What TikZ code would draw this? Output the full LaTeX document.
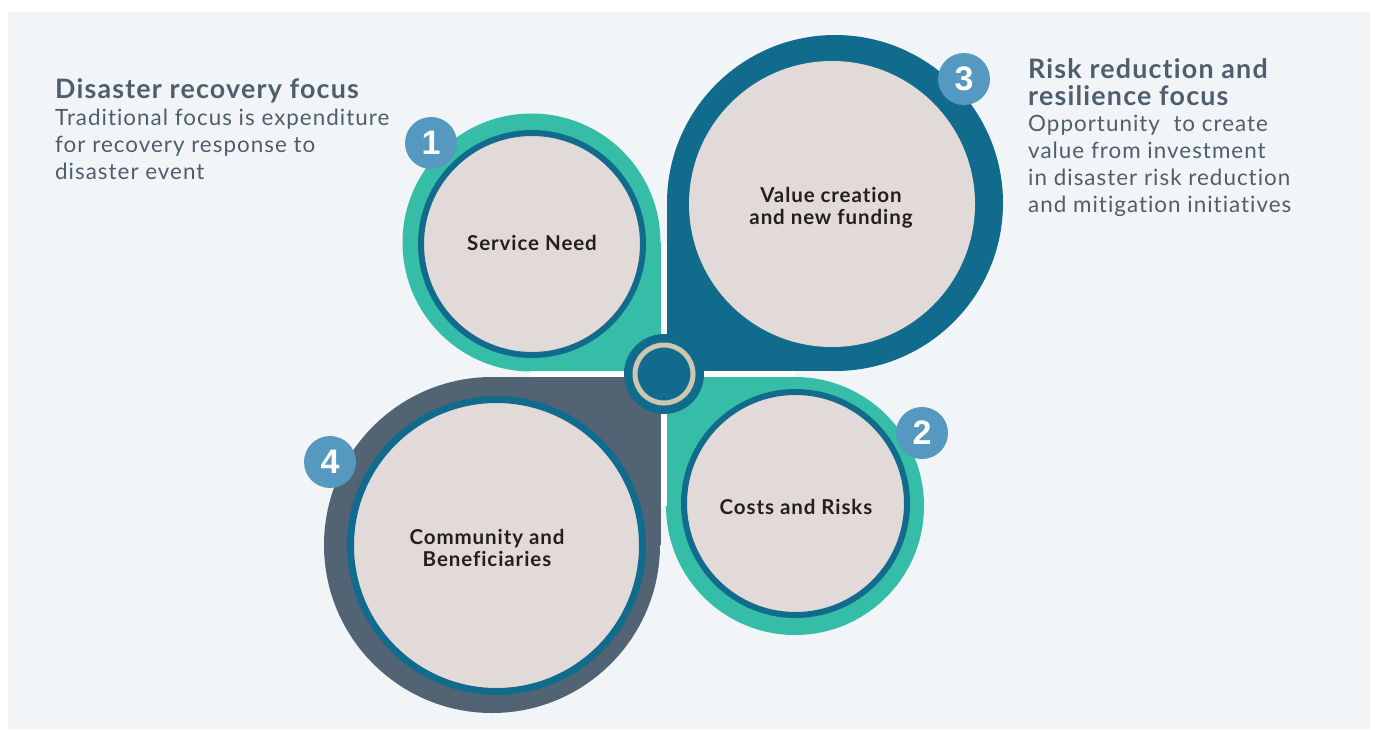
\documentclass[tikz,border=0pt]{standalone}
\usepackage{fontspec}
\setmainfont{Lato}[LetterSpace=4.5,Ligatures=NoCommon]
\newfontfamily\numfont{Liberation Sans}
\definecolor{panelbg}{HTML}{F1F5F8}
\definecolor{petalteal}{HTML}{36BDA8}
\definecolor{petalblue}{HTML}{116B8D}
\definecolor{petalslate}{HTML}{526473}
\definecolor{innerfill}{HTML}{E2DAD8}
\definecolor{badgeblue}{HTML}{5598C0}
\definecolor{ringbeige}{HTML}{CCC7AE}
\definecolor{headtext}{HTML}{4F5E6D}
\definecolor{labeltext}{HTML}{231F20}
\begin{document}
\begin{tikzpicture}[x=1pt,y=-1pt,
  badge/.style={circle, fill=badgeblue, minimum size=52pt, inner sep=0pt, text=white,
    font=\numfont\bfseries\fontsize{34}{34}\selectfont},
  circlabel/.style={text=labeltext, align=center, inner sep=0pt, anchor=base,
    font=\bfseries\fontsize{20.5}{21.5}\selectfont},
  sidetext/.style={text=headtext, align=left, inner sep=0pt, anchor=base west,
    font=\fontsize{22.4}{26.7}\selectfont},
  ring/.style={draw=petalblue, fill=innerfill}
]
\useasboundingbox (0,0) rectangle (1375,729);
\fill[white] (0,0) rectangle (1375,729);
\fill[panelbg] (8,12) rectangle (1370,729);

% petal 1 (teal, top-left)
\fill[petalteal] (531.5,242.5) circle[radius=129];
\fill[petalteal] (531.5,242.5) rectangle (661,371);
% petal 3 (blue, top-right)
\fill[petalblue] (835,203) circle[radius=168];
\fill[petalblue] (667,203) rectangle (835,371);
% petal 2 (teal, bottom-right)
\fill[petalteal] (795,506) circle[radius=129];
\fill[petalteal] (667,377) rectangle (795,506);
% petal 4 (slate, bottom-left)
\fill[petalslate] (492,545) circle[radius=168];
\fill[petalslate] (492,377) rectangle (661,545);

% white separating strips
\fill[white] (661,243) rectangle (667,506);
\fill[white] (531,371) rectangle (795,377);

% inner circles
\draw[ring, line width=6pt] (532,244) circle[radius=111];
\fill[innerfill] (832,204) circle[radius=143];
\draw[ring, line width=6pt] (795.5,503.5) circle[radius=111.5];
\draw[ring, line width=7pt] (496.5,545.5) circle[radius=146];

% hub
\fill[petalblue] (664,374) circle[radius=40];
\draw[ringbeige, line width=5pt] (664,374) circle[radius=29];

% labels (anchor = baseline of last line)
\node[circlabel] (service) at (532,250) {Service Need};
\node[circlabel] (value) at (831,224) {Value creation\\and new funding};
\node[circlabel] (costs) at (796,514) {Costs and Risks};
\node[circlabel] (community) at (487,566) {Community and\\Beneficiaries};

% badges
\node[badge] (b1) at (431,143) {1};
\node[badge] (b2) at (922,433) {2};
\node[badge] (b3) at (964,79) {3};
\node[badge] (b4) at (330,462) {4};

% side texts
\node[sidetext] (lefttext) at (55,179) {{\bfseries\fontsize{26.8}{26.7}\selectfont Disaster recovery focus}\\Traditional focus is expenditure\\for recovery response to\\disaster event};
\node[sidetext] (righttext) at (1028,212) {{\bfseries\fontsize{26.8}{26.7}\selectfont Risk reduction and}\\{\bfseries\fontsize{26.8}{26.7}\selectfont resilience focus}\\Opportunity~\ to create\\value from investment\\in disaster risk reduction\\and mitigation initiatives};
\end{tikzpicture}
\end{document}
